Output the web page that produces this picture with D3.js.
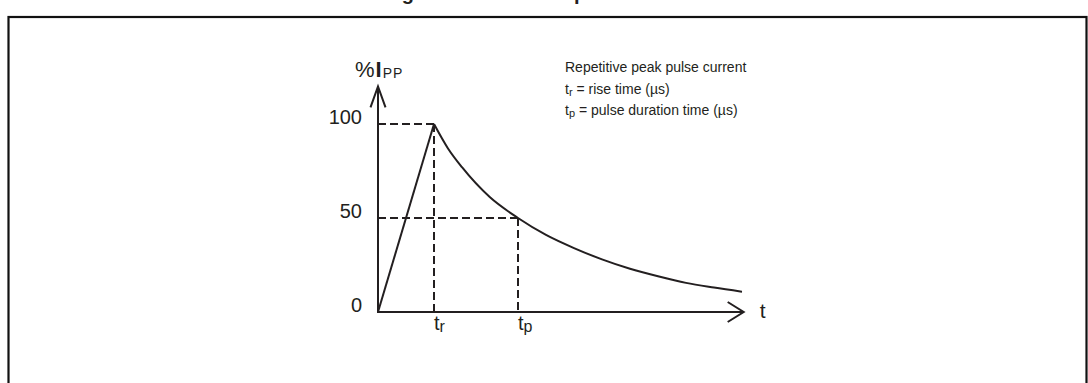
<!DOCTYPE html>
<html>
<head>
<meta charset="utf-8">
<script src="https://cdn.jsdelivr.net/npm/d3@7"></script>
<style>
  body { margin: 0; background: #fff; }
  svg { display: block; }
  svg text { font-family: "Liberation Sans", Arial, sans-serif; fill: #231f20; }
</style>
</head>
<body>
<div id="chart"></div>
<script>
// waveform: time in units of t_r, value in % of Ipp
const riseTimes = [0, 1];
const riseValues = [0, 100];
const decayTimes = [1, 1.25, 1.5, 2, 2.5, 3, 3.5, 4, 4.5, 5, 5.5, 6, 6.5];
const decayValues = [100, 87, 77, 61, 50, 41, 34, 28, 23, 19, 15.5, 13, 10.8];

const yTicks = [0, 50, 100];
const xMarks = [1, 2.5];
const xMarkSubs = ["r", "p"];
const legendLines = [
    { main: "Repetitive peak pulse current" },
    { t: "t", sub: "r", rest: " = rise time (µs)" },
    { t: "t", sub: "p", rest: " = pulse duration time (µs)" }
];

const width = 1088, height = 383;
const ink = "#231f20";

const svg = d3.select("#chart").append("svg")
    .attr("width", width)
    .attr("height", height);

// caption, cut off above the frame (only descenders show)
svg.append("text")
    .attr("x", 384)
    .attr("y", -0.5)
    .attr("font-size", "20px")
    .attr("font-weight", "bold")
    .text("Figure 1. Current Impulse Waveform");

// frame
svg.append("rect")
    .attr("x", 8.5)
    .attr("y", 17)
    .attr("width", 1078)
    .attr("height", 420)
    .attr("fill", "none")
    .attr("stroke", "#111")
    .attr("stroke-width", 2.2);

const xScale = d3.scaleLinear().domain([0, 6.5]).range([378, 742]);
const yScale = d3.scaleLinear().domain([0, 100]).range([312, 124]);

const x0 = xScale(0), y0 = yScale(0);

// axes
const xEnd = xScale(6.53), yEnd = yScale(120);
svg.append("path")
    .attr("d", `M${x0},${yEnd}V${y0}H${xEnd}`)
    .attr("fill", "none").attr("stroke", ink).attr("stroke-width", 2);
svg.append("path")
    .attr("d", `M${x0 - 7.5},${yEnd + 21}L${x0},${yEnd}L${x0 + 7.5},${yEnd + 21}`)
    .attr("fill", "none").attr("stroke", ink).attr("stroke-width", 2);
svg.append("path")
    .attr("d", `M${xEnd - 16},${y0 - 10}L${xEnd},${y0}L${xEnd - 16},${y0 + 10}`)
    .attr("fill", "none").attr("stroke", ink).attr("stroke-width", 2);

// y tick labels
const yAxis = svg.append("g")
    .attr("transform", `translate(${x0 - 16},0)`)
    .call(d3.axisLeft(yScale).tickValues(yTicks).tickSize(0).tickPadding(0));
yAxis.select(".domain").remove();
yAxis.selectAll("text")
    .attr("font-size", "20px")
    .attr("dy", "-0.05em")
    .attr("fill", ink)
    .style("font-family", "'Liberation Sans', Arial, sans-serif");

// axis titles
const yLab = svg.append("text")
    .attr("x", 355)
    .attr("y", 77)
    .attr("font-size", "22px");
yLab.append("tspan").text("%");
yLab.append("tspan").attr("dx", "1").attr("font-weight", "bold").text("I");
yLab.append("tspan").attr("font-size", "14px").attr("dx", "1").attr("dy", "1")
    .attr("letter-spacing", "1").text("PP");

svg.append("text")
    .attr("x", xEnd + 16)
    .attr("y", y0 + 6)
    .attr("font-size", "21px")
    .text("t");

// dashed guides
const dash = "8,4";
const guides = [
    [[0, 100], [1, 100]],
    [[1, 100], [1, 0]],
    [[0, 50], [2.5, 50]],
    [[2.5, 50], [2.5, 0]]
];
svg.selectAll("line.guide")
    .data(guides)
    .enter()
    .append("line")
    .attr("class", "guide")
    .attr("x1", d => xScale(d[0][0]))
    .attr("y1", d => yScale(d[0][1]))
    .attr("x2", d => xScale(d[1][0]))
    .attr("y2", d => yScale(d[1][1]))
    .attr("stroke", ink)
    .attr("stroke-width", 2)
    .attr("stroke-dasharray", dash);

// waveform
const line = d3.line()
    .x(d => xScale(d[0]))
    .y(d => yScale(d[1]));
svg.append("path")
    .datum(riseTimes.map((t, i) => [t, riseValues[i]]))
    .attr("d", line)
    .attr("fill", "none").attr("stroke", ink).attr("stroke-width", 2);
svg.append("path")
    .datum(decayTimes.map((t, i) => [t, decayValues[i]]))
    .attr("d", line.curve(d3.curveMonotoneX))
    .attr("fill", "none").attr("stroke", ink).attr("stroke-width", 2);

// t_r, t_p marks under the axis
const marks = svg.selectAll("text.mark")
    .data(xMarks)
    .enter()
    .append("text")
    .attr("class", "mark")
    .attr("x", d => xScale(d))
    .attr("y", y0 + 18)
    .attr("font-size", "20px");
marks.append("tspan").text("t");
marks.append("tspan").attr("font-size", "16px").attr("dy", "2").text((d, i) => xMarkSubs[i]);

// legend
const legend = svg.selectAll("text.legend")
    .data(legendLines)
    .enter()
    .append("text")
    .attr("class", "legend")
    .attr("x", 565)
    .attr("y", (d, i) => 72 + i * 21.5)
    .attr("font-size", "14px");
legend.each(function(d) {
    const t = d3.select(this);
    if (d.main) { t.text(d.main); return; }
    t.append("tspan").text(d.t);
    t.append("tspan").attr("font-size", "11px").attr("dy", "2").text(d.sub);
    t.append("tspan").attr("dy", "-2").text(d.rest);
});
</script>
</body>
</html>
